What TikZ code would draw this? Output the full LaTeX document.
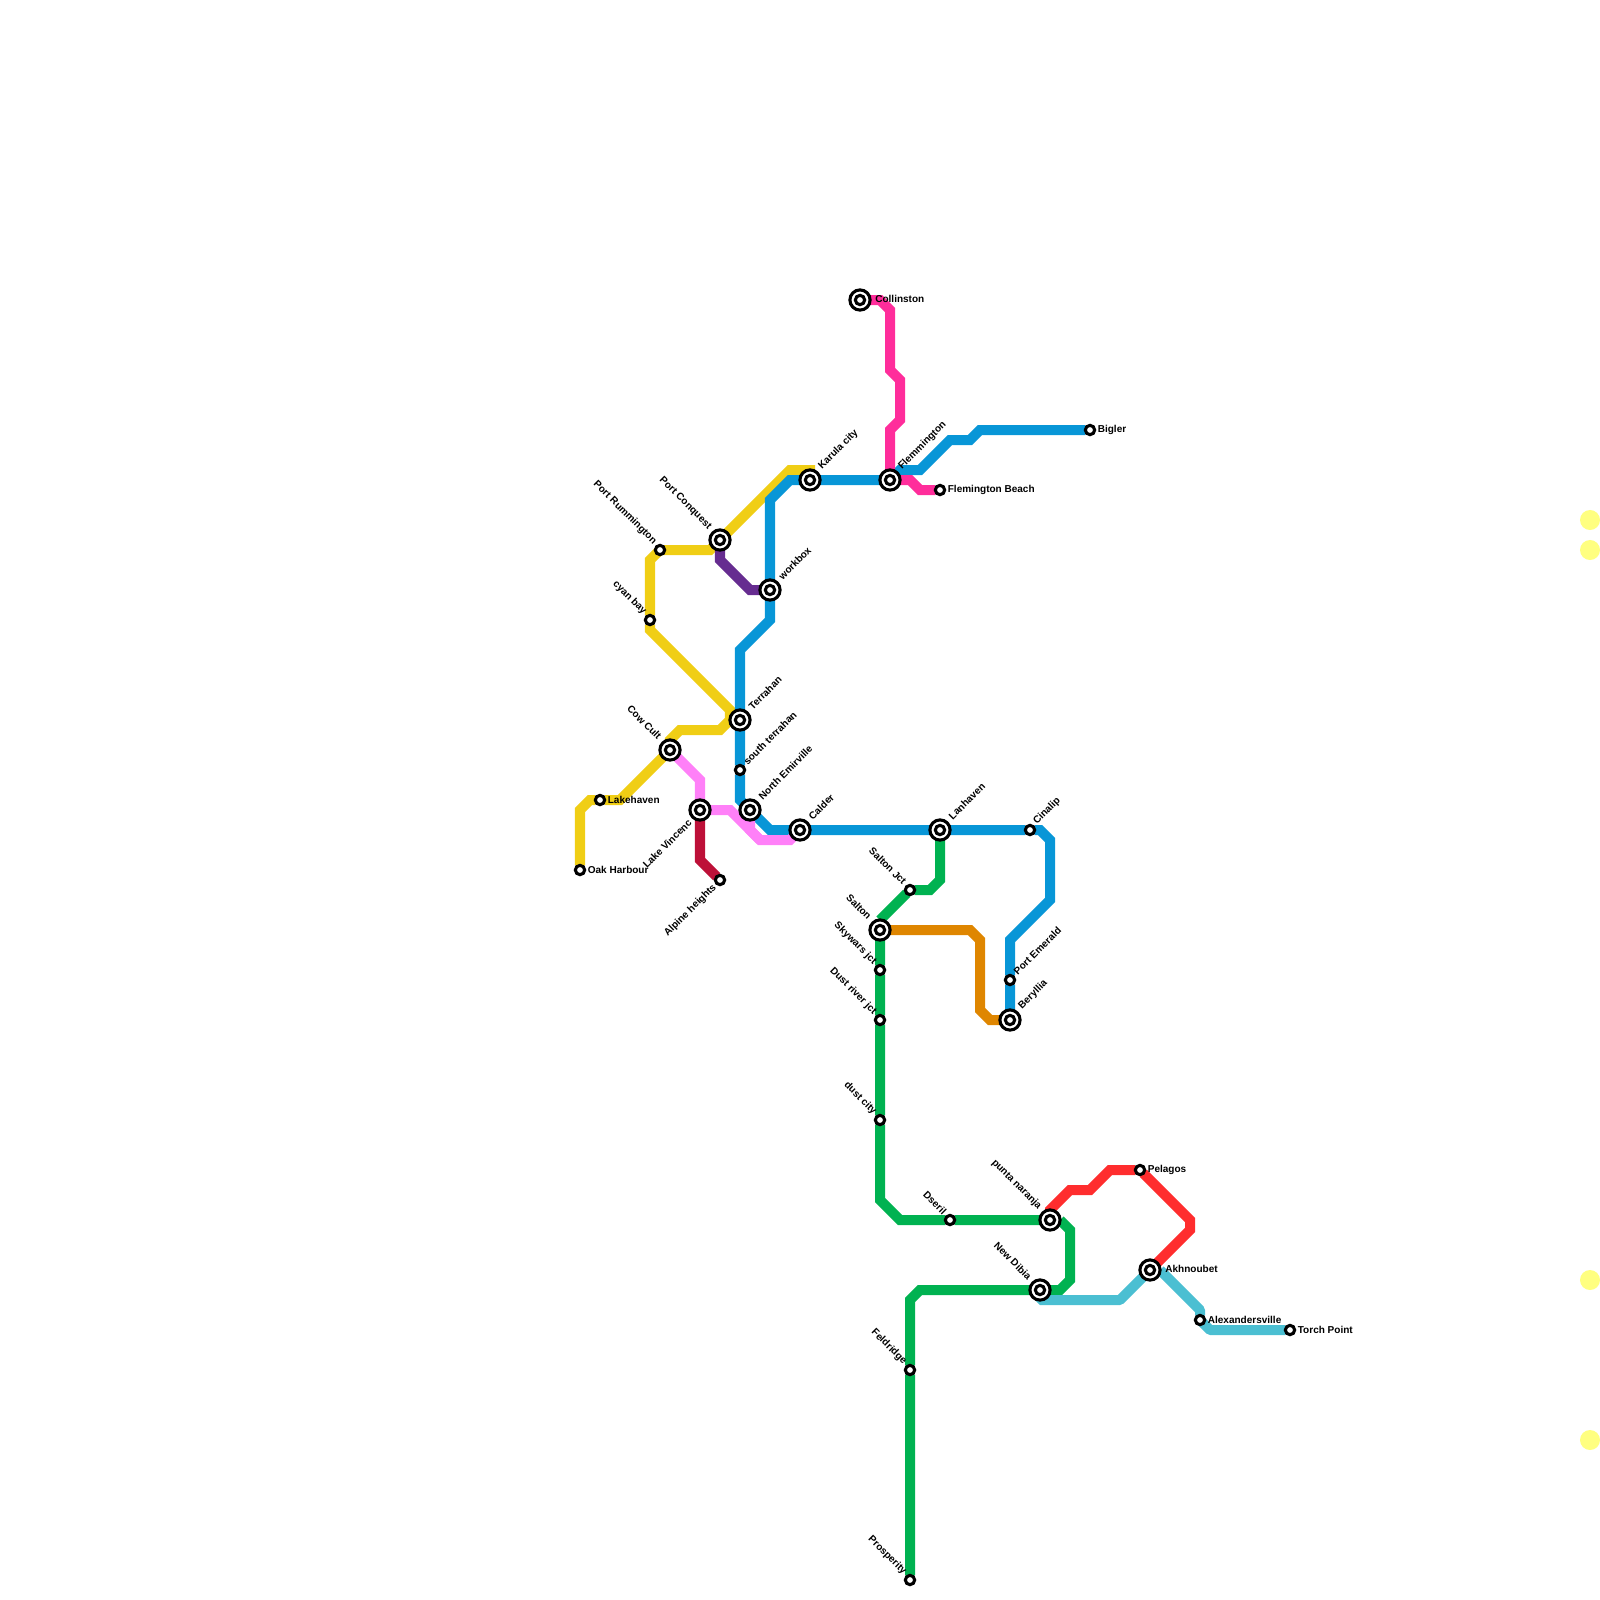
\documentclass[tikz,border=0pt]{standalone}
\usepackage{fontspec}
\setmainfont{Liberation Sans}
\usetikzlibrary{backgrounds}
\definecolor{lineyellow}{HTML}{F0CE15}
\definecolor{lineblue}{HTML}{0896D7}
\definecolor{linemagenta}{HTML}{FF2D9B}
\definecolor{linepurple}{HTML}{662C90}
\definecolor{linecrimson}{HTML}{BD1038}
\definecolor{linepink}{HTML}{FF80F8}
\definecolor{linegreen}{HTML}{00B251}
\definecolor{lineorange}{HTML}{DF8600}
\definecolor{linered}{HTML}{FF2D2E}
\definecolor{lineteal}{HTML}{4BBFD2}
\definecolor{spotyellow}{HTML}{FFFF80}
\tikzset{
  metroline/.style={line width=5.7pt, miter limit=4},
  stop/.style={circle, draw, fill=white, line width=1.75pt, minimum size=5.3pt, inner sep=0pt, outer sep=0pt},
  hub/.style={circle, draw, fill=white, line width=1.75pt, minimum size=11.5pt, inner sep=0pt, outer sep=0pt},
  spot/.style={circle, fill=spotyellow, minimum size=11.4pt, inner sep=0pt, outer sep=0pt},
  stoplabel/.style={font=\bfseries\fontsize{5.7}{6}\selectfont, inner sep=0pt},
  labelE/.style={stoplabel, anchor=west, shift={(1.5*#1,1-0.2*#1)}},
  labelNE/.style={stoplabel, anchor=west, shift={(#1,-#1-2)}, rotate=45},
  labelNW/.style={stoplabel, anchor=east, shift={(-#1,-#1-2)}, rotate=-45},
  labelSW/.style={stoplabel, anchor=east, shift={(-#1,#1+1)}, rotate=45}
}
\begin{document}
\begin{tikzpicture}[x=0.02cm, y=-0.02cm]
  \useasboundingbox (0,0) rectangle (1600,1600);
  % Interchange stations
  \foreach \name/\txt/\side/\x/\y in {
    portconquest/Port Conquest/labelNW/720/540, karulacity/Karula city/labelNE/810/480,
    flemmington/Flemmington/labelNE/890/480, collinston/Collinston/labelE/860/300,
    workbox/workbox/labelNE/770/590, terrahan/Terrahan/labelNE/740/720,
    cowcult/Cow Cult/labelNW/670/750, lakevincenc/Lake Vincenc/labelSW/700/810,
    northemirville/North Emirville/labelNE/750/810, calder/Calder/labelNE/800/830,
    lanhaven/Lanhaven/labelNE/940/830, salton/Salton/labelNW/880/930,
    beryllia/Beryllia/labelNE/1010/1020, puntanaranja/punta naranja/labelNW/1050/1220,
    newdibia/New Dibia/labelNW/1040/1290, akhnoubet/Akhnoubet/labelE/1150/1270} {
    \node[hub] (\name) at (\x,\y) {};
    \node[stop] (\name inner) at (\name) {};
    \node[\side=10] (\name label) at (\name) {\txt};
  }
  % Plain stations
  \foreach \name/\txt/\side/\x/\y in {
    portrummington/Port Rummington/labelNW/660/550, cyanbay/cyan bay/labelNW/650/620,
    lakehaven/Lakehaven/labelE/600/800, oakharbour/Oak Harbour/labelE/580/870,
    southterrahan/south terrahan/labelNE/740/770, alpineheights/Alpine heights/labelSW/720/880,
    flemingtonbeach/Flemington Beach/labelE/940/490, bigler/Bigler/labelE/1090/430,
    cinalip/Cinalip/labelNE/1030/830, saltonjct/Salton Jct/labelNW/910/890,
    skywarsjct/Skywars jct/labelNW/880/970, dustriverjct/Dust river jct/labelNW/880/1020,
    dustcity/dust city/labelNW/880/1120, portemerald/Port Emerald/labelNE/1010/980,
    dseril/Dseril/labelNW/950/1220, feldridge/Feldridge/labelNW/910/1370,
    prosperity/Prosperity/labelNW/910/1580, pelagos/Pelagos/labelE/1140/1170,
    alexandersville/Alexandersville/labelE/1200/1320, torchpoint/Torch Point/labelE/1290/1330} {
    \node[stop] (\name) at (\x,\y) {};
    \node[\side=5] (\name label) at (\name) {\txt};
  }
  % Yellow spots on the edge
  \foreach \i/\y in {1/520,2/550,3/1280,4/1440} \node[spot] (spot\i) at (1590,\y) {};
  \begin{scope}[on background layer]
    % Lines
    \draw[metroline, lineyellow] (oakharbour) -- (580,810) -- (590,800) -- (lakehaven) -- (620,800) -- (cowcult.center) -- (670,740) -- (680,730) -- (720,730) -- (730,720) -- (730,710) -- (650,630) -- (cyanbay) -- (650,560) -- (portrummington.center) -- (710,550) -- (portconquest) -- (790,470) -- (810,470) -- (karulacity.center);
    \draw[metroline, lineblue] (flemmington) -- (karulacity) -- (790,480) -- (770,500) -- (workbox) -- (770,620) -- (740,650) -- (terrahan) -- (southterrahan) -- (740,800) -- (northemirville) -- (770,830) -- (calder) -- (lanhaven) -- (cinalip) -- (1040,830) -- (1050,840) -- (1050,900) -- (1010,940) -- (portemerald) -- (beryllia);
    \draw[metroline, lineblue] (flemmington) -- (900,470) -- (920,470) -- (950,440) -- (970,440) -- (980,430) -- (bigler);
    \draw[metroline, linemagenta] (collinston) -- (880,300) -- (890,310) -- (890,370) -- (900,380) -- (900,420) -- (890,430) -- (flemmington) -- (910,480) -- (920,490) -- (flemingtonbeach);
    \draw[metroline, linepurple] (portconquest) -- (720,560) -- (750,590) -- (workbox);
    \draw[metroline, linecrimson] (lakevincenc) -- (700,860) -- (alpineheights);
    \draw[metroline, linepink] (cowcult) -- (700,780) -- (lakevincenc) -- (730,810) -- (760,840) -- (790,840) -- (calder);
    \draw[metroline, linepink] (northemirville) -- (750,830) -- (760,840);
    \draw[metroline, linegreen] (lanhaven) -- (940,880) -- (930,890) -- (saltonjct) -- (880,920) -- (salton) -- (skywarsjct) -- (dustriverjct) -- (dustcity) -- (880,1200) -- (900,1220) -- (dseril) -- (puntanaranja) -- (1060,1220) -- (1070,1230) -- (1070,1280) -- (1060,1290) -- (newdibia) -- (920,1290) -- (910,1300) -- (feldridge) -- (prosperity);
    \draw[metroline, lineorange] (salton) -- (970,930) -- (980,940) -- (980,1010) -- (990,1020) -- (beryllia);
    \draw[metroline, linered] (puntanaranja.center) -- (1050,1210) -- (1070,1190) -- (1090,1190) -- (1110,1170) -- (pelagos) -- (1190,1220) -- (1190,1230) -- (akhnoubet);
    \draw[metroline, lineteal, line join=bevel] (newdibia.center) -- (1040,1300) -- (1120,1300) -- (akhnoubet) -- (1160,1270) -- (1200,1310) -- (alexandersville) -- (1200,1320) -- (1210,1330) -- (torchpoint);
  \end{scope}
\end{tikzpicture}
\end{document}
